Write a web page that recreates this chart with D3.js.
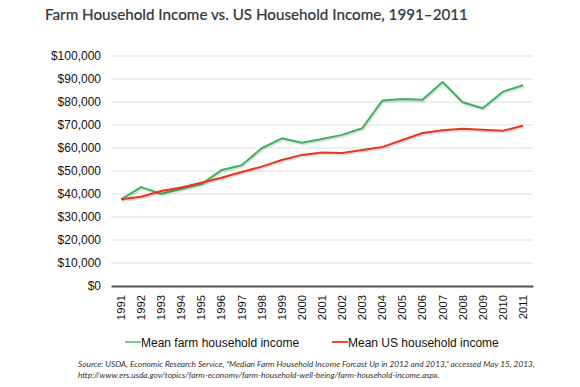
<!DOCTYPE html>
<html><head><meta charset="utf-8">
<script src="https://cdn.jsdelivr.net/npm/d3@7"></script>
<style>body{margin:0;background:#fff}svg{display:block}</style>
</head><body>
<svg id="c" width="580" height="387"></svg>
<script>
const years = ["1991","1992","1993","1994","1995","1996","1997","1998","1999","2000","2001","2002","2003","2004","2005","2006","2007","2008","2009","2010","2011"];
const farmIncome = [37700,43000,40100,42300,44300,50400,52500,59900,64200,62300,63900,65700,68600,80600,81300,81000,88700,79900,77300,84500,87300];
const usIncome = [37700,38800,41300,42800,44900,47100,49600,51900,54800,57000,58000,57800,59100,60400,63500,66500,67700,68400,67900,67500,69700];
const yTicks = [0,10000,20000,30000,40000,50000,60000,70000,80000,90000,100000];
const seriesNames = ["Mean farm household income","Mean US household income"];
const seriesColors = ["#3db35d","#e8361e"];
const legendColors = ["#6fd08f","#f04a35"];

const svg = d3.select("#c");
const L = 111, R = 533, T = 56, B = 286;
const x = d3.scaleBand().domain(years).range([L, R]);
const y = d3.scaleLinear().domain([0,100000]).range([B, T]);

svg.append("text").attr("x",45).attr("y",19.5)
  .attr("font-family","Lato, 'Open Sans', sans-serif").attr("font-size",15.2)
  .attr("font-weight",500)
  .attr("fill","#363a40").attr("stroke","#363a40").attr("stroke-width",0.15)
  .text("Farm Household Income vs. US Household Income, 1991–2011");

// grid
svg.append("g").selectAll("line").data(yTicks.filter(d=>d>0)).join("line")
  .attr("x1",L).attr("x2",R).attr("y1",d=>y(d)).attr("y2",d=>y(d))
  .attr("stroke","#e8e8e8").attr("stroke-width",1.5);

// y axis labels
const yAxis = d3.axisLeft(y).tickValues(yTicks).tickSize(0).tickPadding(10)
  .tickFormat(d=>"$"+d3.format(",")(d));
const ga = svg.append("g").attr("transform",`translate(${L},0)`).call(yAxis);
ga.select(".domain").remove();
ga.selectAll("text").attr("font-family","'Liberation Sans', Arial, sans-serif").attr("font-size",12).attr("fill","#111");

// x axis
const xAxis = d3.axisBottom(x).tickSize(0).tickPadding(0);
const gx = svg.append("g").attr("transform",`translate(0,${B})`).call(xAxis);
gx.select(".domain").attr("stroke","#555").attr("stroke-width",2);
gx.selectAll("text").attr("font-family","'Liberation Sans', Arial, sans-serif").attr("font-size",11.3).attr("fill","#111")
  .attr("text-anchor","end").attr("dy","0.35em").attr("transform","translate(0,9) rotate(-90)").attr("x",0).attr("y",0);

// lines
const line = d3.line().x((d,i)=>x(years[i])+x.bandwidth()/2).y(d=>y(d));
[farmIncome, usIncome].forEach((s,k)=>{
  svg.append("path").datum(s).attr("d",line).attr("fill","none")
    .attr("stroke","rgba(0,0,0,0.12)").attr("stroke-width",2.5).attr("transform","translate(1,1.5)");
  svg.append("path").datum(s).attr("d",line).attr("fill","none")
    .attr("stroke",seriesColors[k]).attr("stroke-width",2).attr("stroke-linejoin","round");
});

// legend
const lx = [125, 332];
seriesNames.forEach((n,k)=>{
  svg.append("line").attr("x1",lx[k]).attr("x2",lx[k]+16).attr("y1",342).attr("y2",342)
    .attr("stroke",legendColors[k]).attr("stroke-width",2);
  svg.append("text").attr("x",lx[k]+16).attr("y",346.5)
    .attr("font-family","'Liberation Sans', Arial, sans-serif").attr("font-size",12).attr("fill","#111").text(n);
});

// source
const src = svg.append("text").attr("font-family","Lato, 'Open Sans', sans-serif").attr("font-style","italic")
  .attr("font-size",8.3).attr("fill","#333");
src.append("tspan").attr("x",78).attr("y",367).text("Source: USDA, Economic Research Service, \u201cMedian Farm Household Income Forcast Up in 2012 and 2013,\u201d accessed May 15, 2013,");
src.append("tspan").attr("x",78).attr("y",377.5).text("http://www.ers.usda.gov/topics/farm-economy/farm-household-well-being/farm-household-income.aspx.");
</script>
</body></html>
